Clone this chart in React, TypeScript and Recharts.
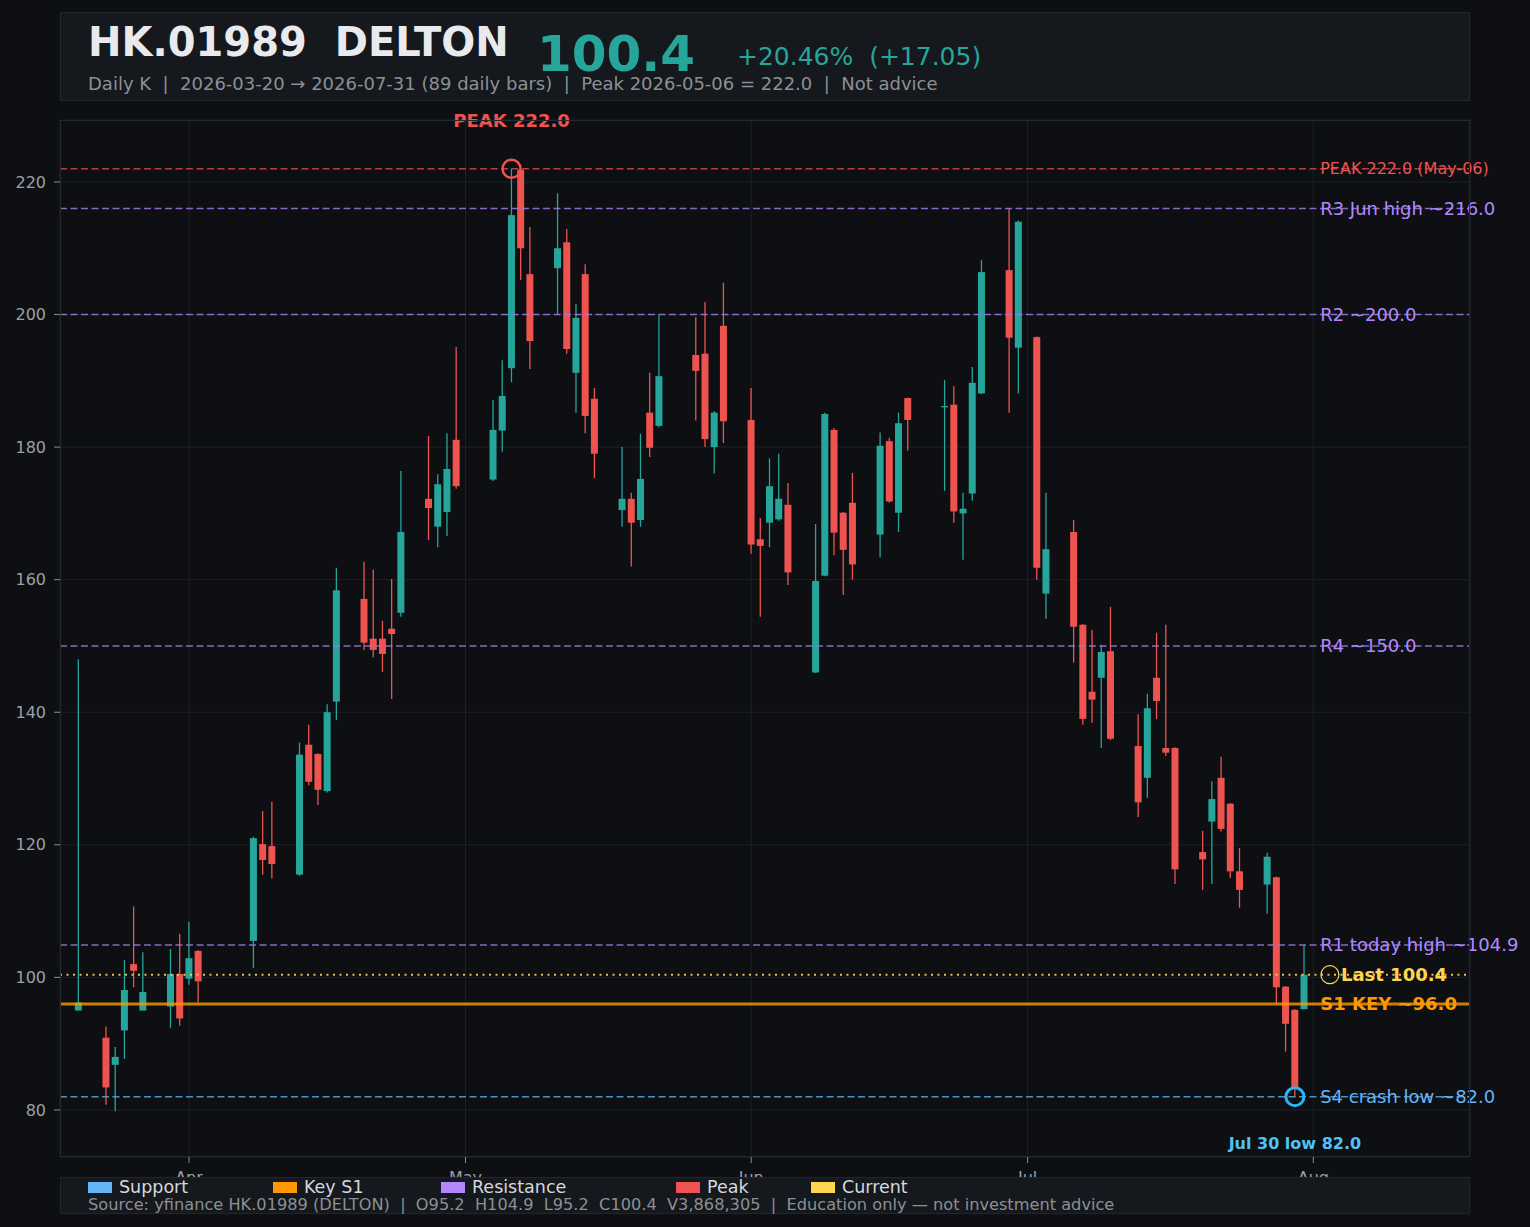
import React from "react";
import {
  ComposedChart,
  Bar,
  XAxis,
  YAxis,
  CartesianGrid,
  ReferenceLine,
  ReferenceDot,
} from "recharts";

// daily bars
const DATES = [
  "2026-03-20", "2026-03-23", "2026-03-24", "2026-03-25", "2026-03-26", "2026-03-27",
  "2026-03-30", "2026-03-31", "2026-04-01", "2026-04-02", "2026-04-08", "2026-04-09",
  "2026-04-10", "2026-04-13", "2026-04-14", "2026-04-15", "2026-04-16", "2026-04-17",
  "2026-04-20", "2026-04-21", "2026-04-22", "2026-04-23", "2026-04-24", "2026-04-27",
  "2026-04-28", "2026-04-29", "2026-04-30", "2026-05-04", "2026-05-05", "2026-05-06",
  "2026-05-07", "2026-05-08", "2026-05-11", "2026-05-12", "2026-05-13", "2026-05-14",
  "2026-05-15", "2026-05-18", "2026-05-19", "2026-05-20", "2026-05-21", "2026-05-22",
  "2026-05-26", "2026-05-27", "2026-05-28", "2026-05-29", "2026-06-01", "2026-06-02",
  "2026-06-03", "2026-06-04", "2026-06-05", "2026-06-08", "2026-06-09", "2026-06-10",
  "2026-06-11", "2026-06-12", "2026-06-15", "2026-06-16", "2026-06-17", "2026-06-18",
  "2026-06-22", "2026-06-23", "2026-06-24", "2026-06-25", "2026-06-26", "2026-06-29",
  "2026-06-30", "2026-07-02", "2026-07-03", "2026-07-06", "2026-07-07", "2026-07-08",
  "2026-07-09", "2026-07-10", "2026-07-13", "2026-07-14", "2026-07-15", "2026-07-16",
  "2026-07-17", "2026-07-20", "2026-07-21", "2026-07-22", "2026-07-23", "2026-07-24",
  "2026-07-27", "2026-07-28", "2026-07-29", "2026-07-30", "2026-07-31",
];
const OPEN = [
  95.0, 90.9, 86.8, 92.0, 102.0, 95.0, 95.6, 100.5, 99.8, 104.0, 105.5, 120.1,
  119.8, 115.5, 135.1, 133.7, 128.1, 141.6, 157.1, 151.1, 151.1, 152.6, 155.0, 172.2,
  168.0, 170.2, 181.1, 175.1, 182.5, 191.9, 221.8, 206.1, 207.0, 210.9, 191.2, 206.1,
  187.3, 170.5, 172.2, 169.0, 185.2, 183.2, 193.9, 194.1, 180.0, 198.3, 184.1, 166.1,
  168.6, 169.1, 171.3, 146.0, 160.6, 182.6, 170.1, 171.6, 166.8, 180.9, 170.1, 187.4,
  186.0, 186.4, 170.0, 173.0, 188.1, 206.7, 195.0, 196.6, 157.9, 167.2, 153.2, 143.1,
  145.2, 149.2, 134.9, 130.1, 145.2, 134.6, 134.6, 118.9, 123.5, 130.1, 126.2, 116.0,
  114.0, 115.1, 98.6, 95.1, 95.2,
];
const HIGH = [
  148.0, 92.6, 89.5, 102.6, 110.7, 103.8, 104.3, 106.6, 108.4, 104.1, 121.2, 125.1,
  126.5, 135.4, 138.1, 133.8, 141.2, 161.8, 162.7, 161.5, 153.8, 160.1, 176.4, 181.7,
  175.9, 182.1, 195.1, 187.1, 193.1, 222.0, 221.8, 213.2, 218.3, 212.9, 201.6, 207.6,
  188.9, 180.0, 173.1, 182.0, 191.2, 199.9, 199.6, 201.9, 185.4, 204.8, 188.9, 169.3,
  178.3, 179.0, 174.6, 168.4, 185.2, 182.9, 170.2, 176.1, 182.2, 181.4, 185.2, 187.5,
  190.1, 189.2, 173.1, 192.1, 208.2, 216.0, 214.2, 196.7, 173.1, 169.0, 153.3, 152.4,
  150.2, 155.9, 139.7, 142.8, 152.0, 153.2, 134.7, 122.1, 129.6, 133.3, 126.3, 119.5,
  118.8, 115.2, 98.7, 95.2, 104.9,
];
const LOW = [
  95.0, 80.8, 79.8, 87.7, 98.5, 95.0, 92.4, 92.7, 98.9, 96.2, 101.4, 115.5,
  114.9, 115.3, 129.0, 126.0, 127.9, 138.8, 149.4, 148.3, 146.1, 142.0, 154.4, 166.0,
  164.9, 166.6, 173.7, 174.9, 179.3, 189.8, 205.2, 191.8, 200.1, 194.1, 185.2, 182.1,
  175.3, 168.0, 162.0, 168.0, 178.5, 183.0, 184.0, 180.0, 176.0, 180.6, 163.9, 154.4,
  164.9, 168.9, 159.2, 145.9, 160.5, 163.7, 157.7, 160.0, 163.4, 171.6, 167.2, 179.5,
  173.4, 168.6, 163.0, 171.9, 188.0, 185.2, 188.1, 160.0, 154.1, 147.5, 138.1, 138.4,
  134.6, 135.8, 124.2, 127.1, 139.0, 133.4, 114.1, 113.2, 114.1, 122.0, 115.0, 110.5,
  109.6, 96.0, 88.8, 82.0, 95.2,
];
const CLOSE = [
  96.2, 83.4, 88.0, 98.1, 101.0, 97.8, 100.5, 93.8, 102.9, 99.4, 121.0, 117.7,
  117.1, 133.6, 129.5, 128.3, 140.0, 158.4, 150.5, 149.4, 148.8, 151.8, 167.2, 170.8,
  174.4, 176.7, 174.1, 182.6, 187.7, 215.0, 210.0, 196.0, 210.0, 194.8, 199.5, 184.7,
  179.0, 172.2, 168.6, 175.2, 179.9, 190.7, 191.5, 181.2, 185.2, 183.9, 165.3, 165.1,
  174.1, 172.2, 161.1, 159.8, 185.0, 167.1, 164.5, 162.3, 180.2, 171.8, 183.6, 184.1,
  186.2, 170.3, 170.7, 189.7, 206.4, 196.5, 214.0, 161.8, 164.6, 152.9, 139.0, 141.9,
  149.1, 136.0, 126.4, 140.6, 141.7, 133.9, 116.3, 117.8, 126.9, 122.4, 116.0, 113.2,
  118.2, 98.5, 93.0, 83.35, 100.4,
];

const MONTH_TICKS = ["2026-04-01", "2026-05-01", "2026-06-01", "2026-07-01", "2026-08-01"];
const MONTH_LABELS = ["Apr", "May", "Jun", "Jul", "Aug"];
const Y_TICKS = [80, 100, 120, 140, 160, 180, 200, 220];

const LEVEL_VALUES = [222.0, 216.0, 200.0, 150.0, 104.9, 100.4, 96.0, 82.0];
const LEVEL_LABELS = [
  "PEAK 222.0 (May-06)",
  "R3 Jun high ~216.0",
  "R2 ~200.0",
  "R4 ~150.0",
  "R1 today high ~104.9",
  "Last 100.4",
  "S1 KEY ~96.0",
  "S4 crash low ~82.0",
];
const LEVEL_KINDS = ["peak", "res", "res", "res", "res", "current", "key", "support"];

const LEGEND_NAMES = ["Support", "Key S1", "Resistance", "Peak", "Current"];
const LEGEND_KINDS = ["support", "key", "res", "peak", "current"];

const PEAK_DATE = "2026-05-06";
const PEAK_VALUE = 222.0;
const LOW_DATE = "2026-07-30";
const LOW_VALUE = 82.0;

const TEAL = "#26a69a";
const RED = "#ef5350";
const FONT = "'DejaVu Sans', sans-serif";

const KIND_STYLE: Record<string, any> = {
  peak: { color: "#ef5350", line: "#e04a4a", dash: "7 3.5", width: 1.5, opacity: 0.8, size: 16, weight: "normal" },
  res: { color: "#b388ff", line: "#9c7ae0", dash: "7 3.5", width: 1.5, opacity: 0.85, size: 18, weight: "normal" },
  current: { color: "#ffd54f", line: "#ffd54f", dash: "2 4.5", width: 2, opacity: 0.9, size: 18, weight: "bold" },
  key: { color: "#ff9800", line: "#ff9800", dash: undefined, width: 3, opacity: 0.8, size: 18, weight: "bold" },
  support: { color: "#64b5f6", line: "#5aa7e3", dash: "7 3.5", width: 1.5, opacity: 0.85, size: 18, weight: "normal" },
};

const BASE = Date.parse("2026-03-20");
const toDay = (s: string) => Math.round((Date.parse(s) - BASE) / 86400000);

const X_DOMAIN = [toDay("2026-03-18"), toDay("2026-08-18")];
const Y_DOMAIN = [72.9, 229.35];
const LABEL_DAY = toDay("2026-08-01") + 0.2;
const CURRENT_MARK_DAY = toDay("2026-08-01") + 1.8;

const data = DATES.map((d, i) => ({
  t: toDay(d),
  open: OPEN[i],
  high: HIGH[i],
  low: LOW[i],
  close: CLOSE[i],
  range: [LOW[i], HIGH[i]],
}));

const Candle = (props: any) => {
  const { x, y, width, height } = props;
  const p = props.payload || props;
  if (x == null || y == null || p.high == null) return null;
  const top = Math.min(y, y + height);
  const bottom = Math.max(y, y + height);
  const span = p.high - p.low || 1;
  const toY = (v: number) => top + ((p.high - v) / span) * (bottom - top);
  const color = p.close >= p.open ? TEAL : RED;
  const cx = x + width / 2;
  const bTop = toY(Math.max(p.open, p.close));
  const bBot = toY(Math.min(p.open, p.close));
  return (
    <g>
      <line x1={cx} x2={cx} y1={top} y2={bottom} stroke={color} strokeWidth={1.3} />
      <rect x={x} y={bTop} width={width} height={Math.max(bBot - bTop, 1.2)} fill={color} />
    </g>
  );
};

export default function App() {
  return (
    <div
      style={{
        position: "relative",
        width: 1530,
        height: 1227,
        background: "#0d0f13",
        fontFamily: FONT,
        overflow: "hidden",
      }}
    >
      <style>{`body{margin:0;background:#0d0f13;}`}</style>

      {/* header */}
      <div
        style={{
          position: "absolute",
          left: 60,
          top: 12,
          width: 1410,
          height: 89,
          boxSizing: "border-box",
          background: "#15181c",
          border: "1px solid #22262b",
        }}
      />
      <div style={{ position: "absolute", left: 88, top: 22, fontSize: 40, lineHeight: 1, fontWeight: "bold", color: "#e8eaed", whiteSpace: "pre" }}>
        HK.01989  DELTON
      </div>
      <div style={{ position: "absolute", left: 537, top: 29, fontSize: 50, lineHeight: 1, fontWeight: "bold", color: TEAL }}>
        100.4
      </div>
      <div style={{ position: "absolute", left: 737, top: 44, fontSize: 25, lineHeight: 1, color: TEAL, whiteSpace: "pre" }}>
        +20.46%  (+17.05)
      </div>
      <div style={{ position: "absolute", left: 88, top: 75, fontSize: 18, lineHeight: 1, color: "#8b9096", whiteSpace: "pre" }}>
        Daily K  |  2026-03-20 → 2026-07-31 (89 daily bars)  |  Peak 2026-05-06 = 222.0  |  Not advice
      </div>

      <div style={{ position: "absolute", left: 0, top: 0 }}>
        <ComposedChart
          width={1530}
          height={1227}
          data={data}
          margin={{ top: 120, right: 60, left: 10, bottom: 50 }}
        >
          <CartesianGrid stroke="#1d2025" strokeWidth={1} />
          <XAxis
            dataKey="t"
            type="number"
            domain={X_DOMAIN}
            allowDataOverflow
            ticks={MONTH_TICKS.map(toDay)}
            tickFormatter={(v: number) => MONTH_LABELS[MONTH_TICKS.map(toDay).indexOf(v)] || ""}
            height={20}
            axisLine={false}
            tickSize={6}
            tickMargin={9}
            tickLine={{ stroke: "#8b9096" }}
            tick={{ fill: "#9aa0a6", fontSize: 16, fontFamily: FONT }}
          />
          <YAxis
            type="number"
            domain={Y_DOMAIN}
            allowDataOverflow
            ticks={Y_TICKS}
            width={50}
            axisLine={false}
            tickSize={6}
            tickMargin={8}
            tickLine={{ stroke: "#8b9096" }}
            tick={{ fill: "#9aa0a6", fontSize: 16, fontFamily: FONT }}
          />
          <Bar dataKey="range" barSize={7} shape={<Candle />} isAnimationActive={false} />

          {LEVEL_VALUES.map((v, i) => {
            const s = KIND_STYLE[LEVEL_KINDS[i]];
            return (
              <ReferenceLine
                key={"l" + i}
                y={v}
                stroke={s.line}
                strokeOpacity={s.opacity}
                strokeWidth={s.width}
                strokeDasharray={s.dash}
              />
            );
          })}

          {LEVEL_VALUES.map((v, i) => {
            const s = KIND_STYLE[LEVEL_KINDS[i]];
            const isCurrent = LEVEL_KINDS[i] === "current";
            return (
              <ReferenceDot
                key={"d" + i}
                x={isCurrent ? CURRENT_MARK_DAY : LABEL_DAY}
                y={v}
                r={isCurrent ? 9 : 0}
                fill="none"
                stroke={isCurrent ? s.color : "none"}
                strokeWidth={1.2}
                label={{
                  value: LEVEL_LABELS[i],
                  position: "right",
                  offset: isCurrent ? 2 : 5,
                  fill: s.color,
                  fontSize: s.size,
                  fontWeight: s.weight,
                  fontFamily: FONT,
                }}
              />
            );
          })}

          <ReferenceDot
            x={toDay(PEAK_DATE)}
            y={PEAK_VALUE}
            r={9}
            fill="none"
            stroke={RED}
            strokeWidth={2.5}
          />
          <ReferenceDot
            x={toDay(PEAK_DATE)}
            y={229.2}
            r={0}
            fill="none"
            stroke="none"
            label={{
              value: "PEAK 222.0",
              position: "center",
              fill: RED,
              fontSize: 18,
              fontWeight: "bold",
              fontFamily: FONT,
            }}
          />
          <ReferenceDot
            x={toDay(LOW_DATE)}
            y={LOW_VALUE}
            r={9}
            fill="none"
            stroke="#29b6f6"
            strokeWidth={3}
          />
          <ReferenceDot
            x={toDay(LOW_DATE)}
            y={75.0}
            r={0}
            fill="none"
            stroke="none"
            label={{
              value: "Jul 30 low 82.0",
              position: "center",
              fill: "#4fc3f7",
              fontSize: 16,
              fontWeight: "bold",
              fontFamily: FONT,
            }}
          />
        </ComposedChart>
      </div>

      {/* plot frame */}
      <div
        style={{
          position: "absolute",
          left: 60,
          top: 120,
          width: 1410,
          height: 1037,
          boxSizing: "border-box",
          border: "1px solid #262a30",
          pointerEvents: "none",
        }}
      />

      {/* legend + source strip */}
      <div
        style={{
          position: "absolute",
          left: 60,
          top: 1177,
          width: 1410,
          height: 37,
          boxSizing: "border-box",
          background: "#15181c",
          border: "1px solid #22262b",
        }}
      />
      {LEGEND_NAMES.map((name, i) => {
        const lefts = [88, 273, 441, 676, 811];
        return (
          <div key={name} style={{ position: "absolute", left: lefts[i], top: 1179, display: "flex", alignItems: "center", whiteSpace: "pre" }}>
            <span style={{ display: "inline-block", width: 24, height: 11, background: KIND_STYLE[LEGEND_KINDS[i]].color, marginRight: 7 }} />
            <span style={{ fontSize: 17.5, lineHeight: "17px", color: "#d5d8dc" }}>{name}</span>
          </div>
        );
      })}
      <div style={{ position: "absolute", left: 88, top: 1197, fontSize: 16.2, lineHeight: 1, color: "#8b9096", whiteSpace: "pre" }}>
        Source: yfinance HK.01989 (DELTON)  |  O95.2  H104.9  L95.2  C100.4  V3,868,305  |  Education only — not investment advice
      </div>
    </div>
  );
}
